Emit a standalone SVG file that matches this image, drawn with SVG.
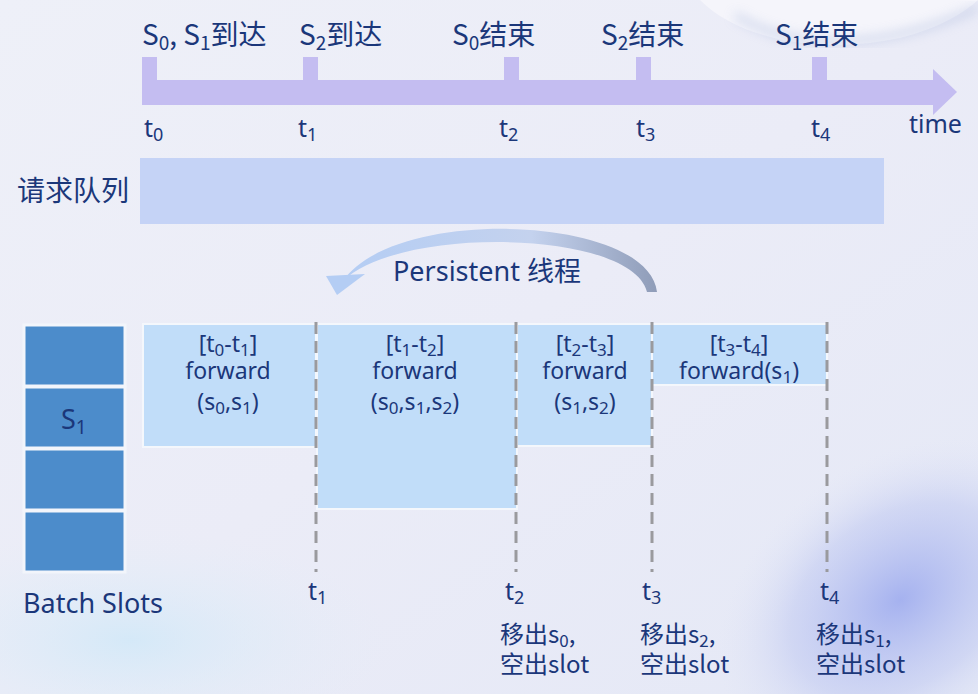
<svg xmlns="http://www.w3.org/2000/svg" width="978" height="694" viewBox="0 0 978 694">
<defs>
<linearGradient id="bg" x1="0" y1="0" x2="1" y2="1">
<stop offset="0" stop-color="#eef0f8"/>
<stop offset="0.5" stop-color="#ebecf7"/>
<stop offset="1" stop-color="#e4e8f6"/>
</linearGradient>
<radialGradient id="blob" cx="0.5" cy="0.5" r="0.5">
<stop offset="0" stop-color="#9aa8ee" stop-opacity="0.85"/>
<stop offset="0.6" stop-color="#b7c1f0" stop-opacity="0.45"/>
<stop offset="1" stop-color="#dfe3f6" stop-opacity="0"/>
</radialGradient>
<radialGradient id="cyan" cx="0.5" cy="0.5" r="0.5">
<stop offset="0" stop-color="#cfe8f8" stop-opacity="0.8"/>
<stop offset="1" stop-color="#e4eef8" stop-opacity="0"/>
</radialGradient>
<linearGradient id="arcg" x1="0" y1="0" x2="1" y2="0">
<stop offset="0" stop-color="#b4cdf4"/>
<stop offset="0.6" stop-color="#c4d2ee"/>
<stop offset="1" stop-color="#8f9cb8"/>
</linearGradient>
<filter id="soft" x="-20%" y="-20%" width="140%" height="140%"><feGaussianBlur stdDeviation="6"/></filter>
<style>
.t{font-family:"Noto Sans","Noto Sans CJK SC",sans-serif;fill:#1b377a}
.zh{font-family:"Noto Sans CJK SC","Noto Sans",sans-serif;fill:#1b377a}
.bar{fill:#c4bdf1}
.fw{fill:#c1ddf9;stroke:#f4f7fc;stroke-width:2}
.slot{fill:#4c8ccb;stroke:#f2f5fb;stroke-width:3}
.dash{stroke:#9a9a9e;stroke-width:3;stroke-dasharray:12 7;fill:none}
</style>
</defs>
<rect width="978" height="694" fill="url(#bg)"/>
<ellipse cx="130" cy="640" rx="260" ry="110" fill="url(#cyan)"/>
<ellipse cx="900" cy="600" rx="200" ry="140" fill="url(#blob)" transform="rotate(-35 900 600)"/>
<g id="deco">
<path d="M700 0 C 740 40, 820 55, 900 38 C 940 28, 965 12, 978 0 Z" fill="#f5f5fb"/>
<path d="M735 15 C 790 50, 880 52, 978 8" fill="none" stroke="#9fb0d8" stroke-width="5" opacity="0.6" filter="url(#soft)"/>
</g>

<g id="timeline">
<rect class="bar" x="142" y="80" width="792" height="25"/>
<polygon class="bar" points="933,69 957,92 933,115"/>
<rect class="bar" x="142" y="57" width="15" height="24"/>
<rect class="bar" x="303" y="57" width="15" height="24"/>
<rect class="bar" x="504" y="57" width="15" height="24"/>
<rect class="bar" x="636" y="57" width="15" height="24"/>
<rect class="bar" x="812" y="57" width="15" height="24"/>
</g>
<g id="events" font-size="28">
<text class="zh" x="142" y="45">S<tspan font-size="19" dy="5">0</tspan><tspan dy="-5">, S</tspan><tspan font-size="19" dy="5">1</tspan><tspan dy="-5">到达</tspan></text>
<text class="zh" x="299" y="45">S<tspan font-size="19" dy="5">2</tspan><tspan dy="-5">到达</tspan></text>
<text class="zh" x="452" y="45">S<tspan font-size="19" dy="5">0</tspan><tspan dy="-5">结束</tspan></text>
<text class="zh" x="601" y="45">S<tspan font-size="19" dy="5">2</tspan><tspan dy="-5">结束</tspan></text>
<text class="zh" x="775" y="45">S<tspan font-size="19" dy="5">1</tspan><tspan dy="-5">结束</tspan></text>
</g>
<g id="ticks" font-size="25">
<text class="t" x="144" y="137">t<tspan font-size="18" dy="4">0</tspan></text>
<text class="t" x="298" y="137">t<tspan font-size="18" dy="4">1</tspan></text>
<text class="t" x="499" y="137">t<tspan font-size="18" dy="4">2</tspan></text>
<text class="t" x="636" y="137">t<tspan font-size="18" dy="4">3</tspan></text>
<text class="t" x="811" y="137">t<tspan font-size="18" dy="4">4</tspan></text>
<text class="t" x="909" y="133">time</text>
</g>

<g id="queue">
<rect x="140" y="158" width="744" height="66" fill="#c5d3f6"/>
<text class="zh" x="17" y="201" font-size="28">请求队列</text>
</g>

<g id="thread">
<path d="M657 292 C 648 215, 395 205, 343 281 C 400 225, 632 230, 647 292 Z" fill="url(#arcg)"/>
<polygon points="326,276 337,295 365,274" fill="#b4cdf4"/>
<text class="t" x="393" y="281" font-size="27">Persistent <tspan class="zh">线程</tspan></text>
</g>

<g id="slots">
<rect class="slot" x="24" y="325" width="101" height="61"/>
<rect class="slot" x="24" y="387" width="101" height="61"/>
<rect class="slot" x="24" y="449" width="101" height="61"/>
<rect class="slot" x="24" y="511" width="101" height="61"/>
<text class="t" x="61" y="429" font-size="27">S<tspan font-size="19" dy="5">1</tspan></text>
<text class="t" x="23" y="613" font-size="27">Batch Slots</text>
</g>

<g id="f1">
<rect class="fw" x="143" y="324" width="173" height="123"/>
<text class="t" font-size="23" text-anchor="middle" x="228" y="352">[t<tspan font-size="17" dy="4">0</tspan><tspan dy="-4">-t</tspan><tspan font-size="17" dy="4">1</tspan><tspan dy="-4">]</tspan></text>
<text class="t" font-size="23" text-anchor="middle" x="228" y="379">forward</text>
<text class="t" font-size="23" text-anchor="middle" x="228" y="410">(s<tspan font-size="17" dy="4">0</tspan><tspan dy="-4">,s</tspan><tspan font-size="17" dy="4">1</tspan><tspan dy="-4">)</tspan></text>
</g>
<g id="f2">
<rect class="fw" x="317" y="324" width="200" height="185"/>
<text class="t" font-size="23" text-anchor="middle" x="415" y="352">[t<tspan font-size="17" dy="4">1</tspan><tspan dy="-4">-t</tspan><tspan font-size="17" dy="4">2</tspan><tspan dy="-4">]</tspan></text>
<text class="t" font-size="23" text-anchor="middle" x="415" y="379">forward</text>
<text class="t" font-size="23" text-anchor="middle" x="415" y="410">(s<tspan font-size="17" dy="4">0</tspan><tspan dy="-4">,s</tspan><tspan font-size="17" dy="4">1</tspan><tspan dy="-4">,s</tspan><tspan font-size="17" dy="4">2</tspan><tspan dy="-4">)</tspan></text>
</g>
<g id="f3">
<rect class="fw" x="517" y="324" width="135" height="122"/>
<text class="t" font-size="23" text-anchor="middle" x="585" y="352">[t<tspan font-size="17" dy="4">2</tspan><tspan dy="-4">-t</tspan><tspan font-size="17" dy="4">3</tspan><tspan dy="-4">]</tspan></text>
<text class="t" font-size="23" text-anchor="middle" x="585" y="379">forward</text>
<text class="t" font-size="23" text-anchor="middle" x="585" y="410">(s<tspan font-size="17" dy="4">1</tspan><tspan dy="-4">,s</tspan><tspan font-size="17" dy="4">2</tspan><tspan dy="-4">)</tspan></text>
</g>
<g id="f4">
<rect class="fw" x="652" y="324" width="175" height="61"/>
<text class="t" font-size="23" text-anchor="middle" x="739" y="352">[t<tspan font-size="17" dy="4">3</tspan><tspan dy="-4">-t</tspan><tspan font-size="17" dy="4">4</tspan><tspan dy="-4">]</tspan></text>
<text class="t" font-size="23" text-anchor="middle" x="739" y="379">forward(s<tspan font-size="17" dy="4">1</tspan><tspan dy="-4">)</tspan></text>
</g>

<g id="connectors">
<line class="dash" x1="316" y1="322" x2="316" y2="572"/>
<line class="dash" x1="516" y1="322" x2="516" y2="572"/>
<line class="dash" x1="652" y1="322" x2="652" y2="572"/>
<line class="dash" x1="827" y1="322" x2="827" y2="572"/>
</g>

<g id="bottom" font-size="25">
<text class="t" x="308" y="600">t<tspan font-size="18" dy="4">1</tspan></text>
<text class="t" x="505" y="600">t<tspan font-size="18" dy="4">2</tspan></text>
<text class="t" x="642" y="600">t<tspan font-size="18" dy="4">3</tspan></text>
<text class="t" x="820" y="600">t<tspan font-size="18" dy="4">4</tspan></text>
<g font-size="24">
<text class="zh" x="500" y="643">移出s<tspan font-size="17" dy="4">0</tspan><tspan dy="-4">,</tspan></text>
<text class="zh" x="500" y="673">空出slot</text>
<text class="zh" x="640" y="643">移出s<tspan font-size="17" dy="4">2</tspan><tspan dy="-4">,</tspan></text>
<text class="zh" x="640" y="673">空出slot</text>
<text class="zh" x="816" y="643">移出s<tspan font-size="17" dy="4">1</tspan><tspan dy="-4">,</tspan></text>
<text class="zh" x="816" y="673">空出slot</text>
</g>
</g>
</svg>
